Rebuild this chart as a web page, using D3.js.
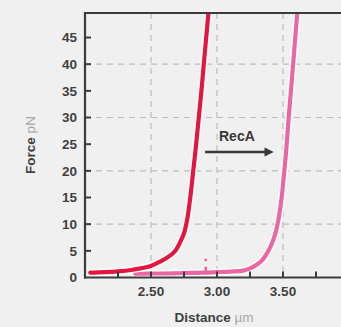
<!DOCTYPE html>
<html><head><meta charset="utf-8">
<script src="https://cdn.jsdelivr.net/npm/d3@7"></script>
<style>
html,body{margin:0;padding:0;background:#f0f0f0;}
svg{display:block;font-family:"Liberation Sans",Arial,sans-serif;}
</style></head>
<body><svg id="c" width="341" height="327"></svg>
<script>
// Data (distance in µm, force in pN)
const beforeDistance = [2.04, 2.15, 2.25, 2.35, 2.42, 2.48, 2.53, 2.58, 2.62, 2.66, 2.69, 2.72, 2.75, 2.775, 2.80, 2.82, 2.84, 2.86, 2.88, 2.90, 2.935];
const beforeForce    = [0.9, 1.0, 1.15, 1.4, 1.7, 2.0, 2.5, 3.1, 3.7, 4.4, 5.2, 6.6, 8.3, 11, 15.5, 20, 24.5, 29.5, 34.5, 40, 49.6];
const afterDistance  = [2.38, 2.50, 2.60, 2.70, 2.80, 2.90, 3.00, 3.10, 3.20, 3.25, 3.30, 3.34, 3.37, 3.40, 3.43, 3.45, 3.47, 3.49, 3.508, 3.525, 3.54, 3.555, 3.575, 3.608];
const afterForce     = [0.7, 0.75, 0.75, 0.8, 0.85, 0.9, 1.0, 1.1, 1.3, 1.7, 2.4, 3.2, 4.2, 5.5, 7.3, 9.0, 11.5, 15, 19.5, 24, 29, 33.5, 39.5, 49.6];
const spikeDistance  = [2.915];
const spikeForce     = [3.3];
const yTicks = [0, 5, 10, 15, 20, 25, 30, 35, 40, 45];
const yGrid = [10, 20, 30, 40];
const xMinorTicks = [2.25, 2.5, 2.75, 3.0, 3.25, 3.5, 3.75];
const xLabels = [2.5, 3.0, 3.5];
const seriesNames = ["RecA"];

const svg = d3.select("#c");
const L = 85, R = 345, T = 13, B = 277.5;
const x = d3.scaleLinear().domain([2.0, 2.0 + (R - L) / 132]).range([L, R]);
const y = d3.scaleLinear().domain([0, (B - T) / 5.333]).range([B, T]);

svg.append("defs").append("clipPath").attr("id", "clip")
  .append("rect").attr("x", L).attr("y", T).attr("width", R - L).attr("height", B - T);

// grid
const grid = svg.append("g").attr("stroke", "#bdbdbd").attr("stroke-width", 1.2).attr("stroke-dasharray", "6,5");
grid.selectAll(".gx").data(xLabels).join("line")
  .attr("x1", d => x(d)).attr("x2", d => x(d)).attr("y1", T).attr("y2", B);
grid.selectAll(".gy").data(yGrid).join("line")
  .attr("x1", L).attr("x2", R).attr("y1", d => y(d)).attr("y2", d => y(d));

const line = d3.line().x(d => x(d[0])).y(d => y(d[1])).curve(d3.curveCatmullRom.alpha(0.5));
const before = beforeDistance.map((d, i) => [d, beforeForce[i]]);
const after = afterDistance.map((d, i) => [d, afterForce[i]]);

const plot = svg.append("g").attr("clip-path", "url(#clip)");
function drawCurve(data, color) {
  plot.append("path").datum(data).attr("d", line).attr("fill", "none")
    .attr("stroke", "#ffffff").attr("stroke-width", 7).attr("stroke-linejoin", "round").attr("stroke-linecap", "round");
  plot.append("path").datum(data).attr("d", line).attr("fill", "none")
    .attr("stroke", color).attr("stroke-width", 4.2).attr("stroke-linejoin", "round").attr("stroke-linecap", "round");
}
const pink = "#eb66a3", red = "#e2163f";
drawCurve(after, pink);
// spike on the pink trace
plot.selectAll(".spk").data(spikeDistance).join("line")
  .attr("x1", d => x(d)).attr("x2", d => x(d)).attr("y1", y(1.0)).attr("y2", y(2.0))
  .attr("stroke", pink).attr("stroke-width", 2.5);
plot.selectAll(".spd").data(spikeDistance).join("circle")
  .attr("cx", d => x(d)).attr("cy", (d, i) => y(spikeForce[i])).attr("r", 2)
  .attr("fill", pink).attr("stroke", "#fff").attr("stroke-width", 1);
drawCurve(before, red);

// axes
const axG = svg.append("g").attr("stroke", "#3c3c3c");
axG.append("line").attr("x1", L).attr("x2", L).attr("y1", T - 1).attr("y2", B + 1).attr("stroke-width", 2.2);
axG.append("line").attr("x1", L - 1).attr("x2", R).attr("y1", T).attr("y2", T).attr("stroke-width", 2.2);
axG.append("line").attr("x1", L - 1).attr("x2", R).attr("y1", B).attr("y2", B).attr("stroke-width", 2.2);
axG.selectAll(".yt").data(yTicks.filter(d => d > 0)).join("line")
  .attr("x1", L).attr("x2", L + 6).attr("y1", d => y(d)).attr("y2", d => y(d)).attr("stroke-width", 2);
axG.selectAll(".xt").data(xMinorTicks).join("line")
  .attr("x1", d => x(d)).attr("x2", d => x(d)).attr("y1", B).attr("y2", B - 6).attr("stroke-width", 2);

const lab = svg.append("g").attr("fill", "#404040").attr("font-weight", "bold").attr("font-size", 13.5);
lab.selectAll(".yl").data(yTicks).join("text")
  .attr("x", 77).attr("y", d => y(d)).attr("dy", "0.36em").attr("text-anchor", "end").text(d => d);
lab.selectAll(".xl").data(xLabels).join("text")
  .attr("x", d => x(d)).attr("y", 296).attr("text-anchor", "middle").text(d => d.toFixed(2));

// axis titles
const xt = svg.append("text").attr("x", 214).attr("y", 322).attr("text-anchor", "middle").attr("font-size", 13.5);
xt.append("tspan").attr("font-weight", "bold").attr("fill", "#404040").text("Distance ");
xt.append("tspan").attr("fill", "#a8a8a8").text("µm");
const yt = svg.append("text").attr("transform", "translate(35,145) rotate(-90)").attr("text-anchor", "middle").attr("font-size", 13.5);
yt.append("tspan").attr("font-weight", "bold").attr("fill", "#404040").text("Force ");
yt.append("tspan").attr("fill", "#a8a8a8").text("pN");

// RecA annotation
svg.append("text").attr("x", 219).attr("y", 141).attr("font-size", 14).attr("font-weight", "bold")
  .attr("fill", "#383838").text(seriesNames[0]);
svg.append("line").attr("x1", x(2.91)).attr("x2", x(3.38)).attr("y1", 152).attr("y2", 152)
  .attr("stroke", "#383838").attr("stroke-width", 2.5);
svg.append("path").attr("d", `M${x(3.36)},147.5 L${x(3.43)},152 L${x(3.36)},156.5 Z`).attr("fill", "#383838");
</script></body></html>
